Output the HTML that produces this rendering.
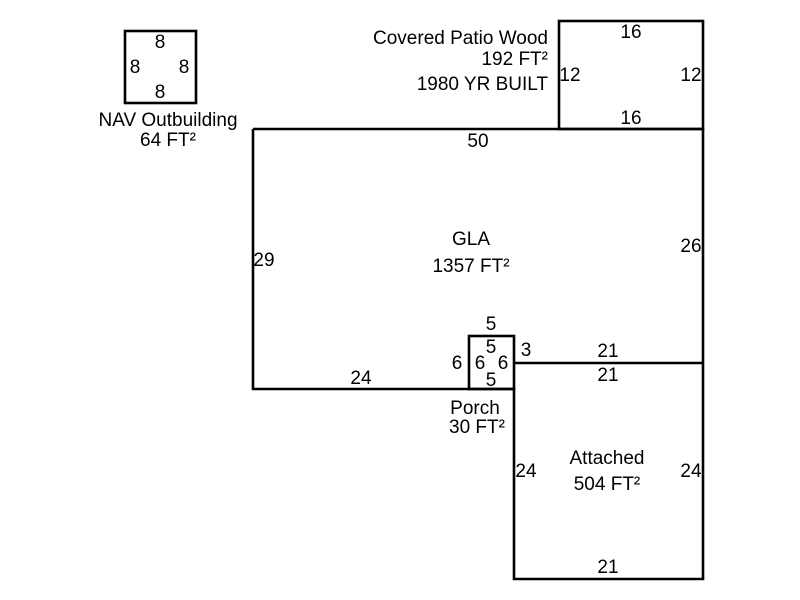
<!DOCTYPE html>
<html><head><style>body{margin:0;background:#fff}svg{display:block}text{font-family:"Liberation Sans",Arial,sans-serif;font-size:19px;fill:#000}</style></head><body>
<svg width="800" height="600" viewBox="0 0 800 600" xmlns="http://www.w3.org/2000/svg">
<g fill="none" stroke="#000" stroke-width="2.6">
<rect x="125" y="31" width="71" height="72"/>
<rect x="559" y="21" width="144" height="108"/>
<polyline points="253,129 703,129 703,579 514,579 514,389 253,389 253,129"/>
<rect x="469" y="336" width="45" height="53"/>
<line x1="514" y1="363" x2="703" y2="363"/>
</g>
<g text-anchor="middle">
<text x="160" y="48">8</text><text x="135" y="73">8</text><text x="184" y="73">8</text><text x="160" y="98">8</text>
<text x="168" y="126">NAV Outbuilding</text><text x="168" y="146">64 FT²</text>
<text x="631" y="38">16</text><text x="631" y="124">16</text><text x="570" y="81">12</text><text x="691" y="81">12</text>
<text x="478" y="147">50</text><text x="264" y="266">29</text><text x="691" y="252">26</text>
<text x="471" y="245">GLA</text><text x="471" y="272">1357 FT²</text>
<text x="361" y="384">24</text>
<text x="491" y="330">5</text><text x="491" y="353">5</text><text x="491" y="386">5</text>
<text x="457" y="369">6</text><text x="480" y="369">6</text><text x="503" y="369">6</text><text x="526" y="356">3</text>
<text x="608" y="357">21</text><text x="608" y="381">21</text>
<text x="475" y="414">Porch</text><text x="477" y="433">30 FT²</text>
<text x="526" y="477">24</text><text x="691" y="477">24</text>
<text x="607" y="464">Attached</text><text x="607" y="490">504 FT²</text>
<text x="608" y="573">21</text>
</g>
<g text-anchor="end">
<text x="548" y="44">Covered Patio Wood</text><text x="548" y="65">192 FT²</text><text x="548" y="90">1980 YR BUILT</text>
</g>
</svg>
</body></html>
